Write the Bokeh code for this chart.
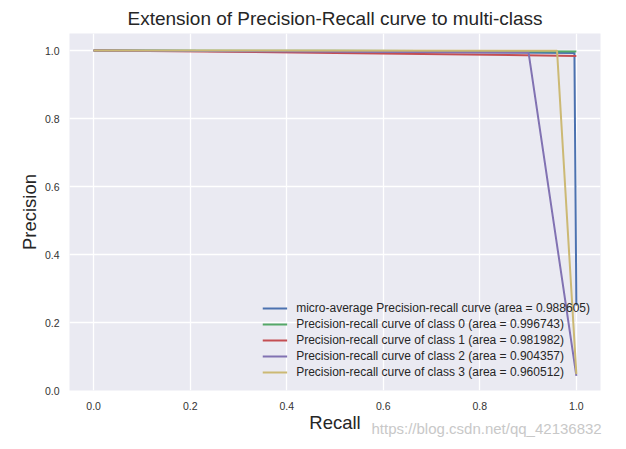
from bokeh.plotting import figure
from bokeh.models import Legend, LegendItem, FixedTicker, PrintfTickFormatter, Range1d, Title
from bokeh.embed import file_html
from bokeh.resources import INLINE

# --- data ---
recall_micro = [0.0, 0.5, 0.996, 1.0]
precision_micro = [1.0, 0.997, 0.993, 0.25]
recall_c0 = [0.0, 0.5, 1.0]
precision_c0 = [1.0, 0.999, 0.997]
recall_c1 = [0.0, 0.5, 1.0]
precision_c1 = [1.0, 0.993, 0.984]
recall_c2 = [0.0, 0.901, 1.0]
precision_c2 = [1.0, 0.994, 0.043]
recall_c3 = [0.0, 0.960, 1.0]
precision_c3 = [1.0, 0.999, 0.048]

labels = [
    "micro-average Precision-recall curve (area = 0.988605)",
    "Precision-recall curve of class 0 (area = 0.996743)",
    "Precision-recall curve of class 1 (area = 0.981982)",
    "Precision-recall curve of class 2 (area = 0.904357)",
    "Precision-recall curve of class 3 (area = 0.960512)",
]
colors = ["#4C72B0", "#55A868", "#C44E52", "#8172B2", "#CCB974"]
ticks = [0.0, 0.2, 0.4, 0.6, 0.8, 1.0]
watermark = "https://blog.csdn.net/qq_42136832"

FONT = "Liberation Sans"

p = figure(
    frame_width=531, frame_height=357,
    min_border_left=69, min_border_right=10, min_border_top=28, min_border_bottom=48,
    x_range=Range1d(-0.05, 1.05), y_range=Range1d(0.0, 1.05),
    output_backend="svg", toolbar_location=None,
    title="Extension of Precision-Recall curve to multi-class",
)
p.background_fill_color = "#EAEAF2"
p.border_fill_color = "white"
p.outline_line_color = None

p.title.align = "center"
p.title.text_font = FONT
p.title.text_font_size = "19px"
p.title.text_font_style = "normal"
p.title.text_color = "#262626"

for ax in (p.xaxis[0], p.yaxis[0]):
    ax.ticker = FixedTicker(ticks=ticks)
    ax.formatter = PrintfTickFormatter(format="%.1f")
    ax.axis_line_color = None
    ax.major_tick_line_color = None
    ax.minor_tick_line_color = None
    ax.major_tick_out = 0
    ax.major_tick_in = 0
    ax.major_label_text_font = FONT
    ax.major_label_text_font_size = "10.5px"
    ax.major_label_text_color = "#333333"
    ax.axis_label_text_font = FONT
    ax.axis_label_text_font_size = "18.5px"
    ax.axis_label_text_font_style = "normal"
    ax.axis_label_text_color = "#262626"

p.xaxis.axis_label = "Recall"
p.yaxis.axis_label = "Precision"
p.xaxis.major_label_standoff = 11
p.yaxis.major_label_standoff = 10
p.xaxis.axis_label_standoff = -1
p.yaxis.axis_label_standoff = 2

p.xgrid.ticker = FixedTicker(ticks=ticks)
p.ygrid.ticker = FixedTicker(ticks=ticks)
p.grid.grid_line_color = "white"
p.grid.grid_line_width = 1.3

series = [
    (recall_micro, precision_micro),
    (recall_c0, precision_c0),
    (recall_c1, precision_c1),
    (recall_c2, precision_c2),
    (recall_c3, precision_c3),
]
items = []
for (r, pr), c, lab in zip(series, colors, labels):
    g = p.line(r, pr, line_color=c, line_width=2)
    items.append(LegendItem(label=lab, renderers=[g]))

legend = Legend(items=items, location="bottom_right")
legend.background_fill_alpha = 0
legend.border_line_color = None
legend.label_text_font = FONT
legend.label_text_font_size = "12px"
legend.label_text_color = "#262626"
legend.glyph_width = 25
legend.glyph_height = 16
legend.label_height = 16
legend.spacing = 0
legend.label_standoff = 9
legend.margin = 10
legend.padding = 1
p.add_layout(legend, "center")

wm = Title(text=watermark, align="left", vertical_align="top", offset=302, standoff=-32,
           text_font=FONT, text_font_size="15px", text_font_style="normal",
           text_color="#C8C8C8")
p.add_layout(wm, "below")

open("out.html", "w").write(file_html(p, INLINE))
